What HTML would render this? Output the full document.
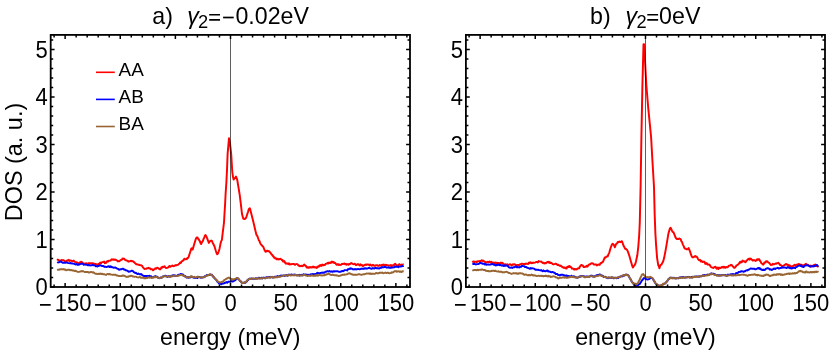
<!DOCTYPE html>
<html><head><meta charset="utf-8"><title>DOS</title>
<style>html,body{margin:0;padding:0;background:#fff}svg{display:block}text{font-family:"Liberation Sans",sans-serif;fill:#000}</style></head><body>
<svg width="830" height="353" viewBox="0 0 830 353">
<rect width="830" height="353" fill="#fff"/>
<defs><clipPath id="cl"><rect x="50.7" y="34.9" width="359.3" height="252.1"/></clipPath><clipPath id="cr"><rect x="465.9" y="34.9" width="359.1" height="252.1"/></clipPath></defs>
<path d="M57.2,260.5 57.8,259.6 58.4,259.9 59.2,260.6 60.0,260.7 60.8,260.5 61.6,260.0 62.4,260.2 63.3,260.1 64.1,260.5 64.9,261.2 65.7,261.4 66.5,261.6 67.3,260.3 68.1,260.7 68.9,259.9 69.7,261.0 70.5,260.5 71.3,260.6 72.1,261.3 72.9,261.1 73.7,260.6 74.5,261.6 75.3,262.0 76.1,262.6 76.9,262.2 77.7,262.9 78.5,263.3 79.3,263.1 80.1,262.3 80.9,261.8 81.7,262.0 82.5,262.9 83.3,263.1 84.1,263.9 84.9,263.5 85.7,263.4 86.5,263.3 87.3,263.8 88.2,263.7 89.0,263.1 89.8,263.8 90.6,263.2 91.4,263.3 92.2,263.2 93.0,263.5 93.8,263.4 94.6,264.1 95.4,263.9 96.2,264.1 97.0,264.7 97.8,264.3 98.6,263.8 99.4,263.8 100.2,262.6 101.0,263.3 101.8,262.3 102.4,262.1 103.0,262.1 103.6,261.7 104.2,261.6 104.8,263.2 105.4,262.9 106.0,263.0 106.6,261.5 107.2,261.7 107.8,261.1 108.4,261.4 109.0,260.7 109.8,260.6 110.6,260.6 111.4,259.5 112.2,259.3 113.1,259.8 113.9,259.3 114.7,259.8 115.5,259.6 116.3,260.2 117.1,260.6 117.9,261.4 118.7,261.1 119.5,261.2 120.3,260.3 121.1,259.9 121.9,259.6 122.7,258.4 123.5,258.7 124.3,258.8 125.1,260.1 125.9,260.2 126.7,260.6 127.5,260.7 128.3,261.7 129.1,261.4 129.9,261.3 130.7,260.7 131.5,261.2 132.3,261.0 133.1,261.4 133.9,262.0 134.7,262.8 135.5,263.5 136.3,264.3 137.1,264.3 138.0,264.7 138.8,264.7 139.6,265.1 140.4,265.3 141.2,265.2 142.0,265.8 142.8,267.1 143.6,268.0 144.4,269.0 145.2,268.9 146.0,268.8 146.8,268.3 147.6,268.3 148.4,267.8 149.2,268.3 150.0,268.3 150.6,269.3 151.2,269.3 151.8,269.1 152.4,269.5 153.0,270.3 153.6,270.1 154.2,269.1 154.8,268.9 155.4,268.3 156.0,268.8 156.6,268.0 157.2,267.7 157.8,268.0 158.4,268.1 159.0,268.9 159.6,268.9 160.2,269.4 160.8,268.7 161.4,267.3 162.0,267.8 162.7,266.7 163.3,267.0 163.9,267.0 164.5,266.2 165.1,267.2 165.7,267.9 166.3,268.0 166.9,267.9 167.5,267.7 168.1,267.4 168.7,266.9 169.3,266.0 169.9,266.2 170.5,266.7 171.1,266.1 171.7,265.9 172.3,265.5 172.9,266.1 173.5,266.2 174.1,266.0 174.7,265.5 175.3,265.5 175.9,265.1 176.5,265.3 177.1,265.0 177.7,264.9 178.3,264.6 178.9,264.1 179.5,263.6 180.1,262.6 180.7,262.9 181.3,261.9 181.9,261.2 182.5,261.1 183.1,260.4 183.7,260.0 184.3,258.7 184.9,259.2 185.5,259.3 186.1,259.0 186.7,259.2 187.3,258.0 188.0,258.0 188.6,257.0 189.2,255.1 189.8,253.2 191.0,249.6 191.4,248.4 192.0,248.3 192.7,249.6 193.9,245.3 195.7,239.3 196.3,238.0 196.9,237.4 197.5,237.5 198.1,238.9 198.7,239.2 199.3,240.5 199.9,241.1 200.5,243.1 201.1,244.1 201.7,242.9 202.3,241.5 202.9,241.1 203.5,239.0 204.1,238.0 204.7,236.3 205.3,235.1 205.9,235.6 206.5,236.8 207.1,238.1 207.7,240.0 208.3,241.3 208.9,242.9 209.5,241.8 210.1,241.1 210.7,240.8 211.3,240.5 211.9,240.8 212.5,242.4 213.1,243.5 213.7,244.8 214.3,245.9 214.9,247.8 215.8,250.8 216.6,253.2 217.2,254.2 217.9,253.6 218.7,251.5 219.6,248.4 220.4,244.1 221.1,241.4 221.9,239.9 222.8,232.1 224.0,222.5 224.6,212.0 225.0,206.0 225.6,194.0 226.4,182.0 227.0,170.0 227.6,154.1 229.0,138.2 230.0,143.3 231.2,154.1 232.2,171.0 232.8,176.0 233.6,179.6 234.5,178.2 235.2,178.0 236.0,176.6 236.6,178.1 237.2,179.6 238.4,186.9 239.6,194.1 240.8,203.7 242.0,214.0 243.3,218.8 243.9,218.5 244.5,219.1 245.1,218.8 245.7,218.2 246.3,217.2 246.9,215.2 248.1,211.6 248.7,209.4 249.3,208.6 249.9,208.2 250.5,210.4 251.7,215.2 252.9,220.0 254.1,224.9 255.3,230.3 256.5,235.1 257.1,235.6 257.7,237.0 258.3,238.7 258.9,240.5 259.5,241.0 260.1,242.9 260.7,244.0 261.3,244.8 261.9,245.3 262.5,246.2 263.1,246.5 263.7,247.8 264.4,249.8 265.0,250.9 265.7,251.8 266.3,251.5 266.9,250.7 267.5,250.8 268.1,251.2 268.7,251.1 269.3,251.4 269.9,252.3 270.5,252.8 271.1,253.8 271.7,254.8 272.3,254.8 272.9,256.2 273.5,256.3 274.1,257.7 274.7,257.4 275.3,258.5 275.9,258.2 276.5,259.0 277.1,259.5 277.7,258.7 278.3,259.0 278.9,259.6 279.5,259.1 280.1,258.7 280.7,259.0 281.3,259.3 281.9,260.2 282.5,259.9 283.1,261.6 283.7,261.4 284.3,261.1 284.9,262.7 285.5,262.6 286.1,263.7 286.7,263.5 287.3,263.8 288.0,263.2 288.6,264.1 289.2,263.5 289.8,264.5 290.4,264.3 291.0,264.3 291.6,264.2 292.2,264.0 292.8,264.1 293.4,264.0 294.0,264.0 294.6,264.7 295.2,264.7 295.8,264.2 296.4,264.1 297.0,264.0 297.6,264.3 298.2,265.3 298.8,265.8 299.4,265.6 300.0,266.2 300.6,266.1 301.2,265.7 301.8,265.9 302.4,266.2 303.0,265.9 303.6,265.0 304.2,264.6 304.8,265.1 305.4,265.9 306.0,266.0 306.6,267.4 307.2,267.1 307.8,267.7 308.4,267.2 309.0,267.7 309.6,267.1 310.2,267.5 310.8,267.1 311.4,267.5 312.0,267.5 312.7,266.7 313.3,266.6 313.9,267.5 314.5,267.1 315.1,267.5 315.7,267.3 316.3,267.4 316.9,267.9 317.5,266.6 318.1,266.7 318.7,266.8 319.3,265.5 319.9,265.9 320.5,265.1 321.1,265.9 321.7,265.0 322.3,264.6 322.9,265.4 323.5,265.0 324.1,264.9 324.7,265.1 325.3,264.3 325.9,263.8 326.5,263.5 327.1,263.5 327.7,262.9 328.3,263.5 328.9,262.6 329.5,262.7 330.1,263.1 330.7,262.3 331.3,262.7 331.9,261.5 332.5,261.9 333.1,262.4 333.7,262.1 334.3,263.1 334.9,262.8 335.5,263.3 336.1,264.3 336.7,264.8 337.3,264.6 338.0,264.1 338.6,264.9 339.2,264.5 339.8,265.0 340.4,264.9 341.0,264.8 341.6,264.1 342.2,263.8 342.8,264.0 343.4,263.8 344.0,263.6 344.6,263.5 345.2,264.3 345.8,263.9 346.4,264.7 347.0,264.1 347.7,264.2 348.5,264.7 349.2,264.0 350.0,264.1 350.8,263.3 351.7,263.1 352.5,263.9 353.3,264.2 354.1,264.1 354.9,263.7 355.7,265.0 356.5,265.0 357.3,264.3 358.1,264.2 358.9,264.7 359.7,265.5 360.5,264.4 361.3,265.3 362.1,265.0 362.9,266.2 363.7,265.5 364.5,265.2 365.3,264.6 366.1,265.0 366.9,264.4 367.8,264.4 368.6,264.7 369.4,265.2 370.2,264.5 371.0,265.3 371.8,265.8 372.6,264.9 373.4,265.0 374.2,265.8 375.0,265.8 375.8,265.3 376.6,265.2 377.4,265.3 378.2,265.9 379.0,265.7 379.8,265.0 380.6,265.5 381.4,265.7 382.2,264.7 383.0,265.3 383.8,264.5 384.6,265.8 385.4,265.0 386.2,264.8 387.0,265.3 387.8,265.3 388.6,265.4 389.4,265.4 390.2,265.9 391.0,265.0 391.8,266.1 392.7,265.3 393.3,265.6 393.9,265.2 394.5,264.1 395.1,263.8 395.7,264.3 396.3,265.0 396.9,265.3 397.5,265.9 398.1,265.3 398.7,264.7 399.3,264.1 399.9,264.7 400.5,265.0 401.1,265.0 401.7,264.6 402.4,264.9 403.1,264.5 403.7,264.7" fill="none" stroke="#f00" stroke-width="1.95" stroke-linejoin="round" clip-path="url(#cl)"/>
<path d="M57.2,262.0 58.0,262.5 58.8,262.4 59.6,261.9 60.4,261.5 61.2,261.7 62.0,262.3 62.9,262.8 63.7,262.8 64.5,262.6 65.3,262.8 66.1,262.4 66.9,262.6 67.7,262.9 68.5,263.1 69.3,263.1 70.1,263.3 70.9,263.0 71.7,263.5 72.5,263.5 73.3,263.6 74.1,263.8 74.9,264.2 75.7,264.5 76.5,264.1 77.3,264.8 78.1,264.5 78.9,264.7 79.7,264.3 80.5,263.9 81.3,263.8 82.1,263.6 82.9,263.9 83.7,264.7 84.5,264.6 85.3,264.5 86.1,264.7 86.9,264.7 87.8,265.3 88.6,265.0 89.4,265.2 90.2,265.4 91.0,265.5 91.8,265.1 92.6,264.8 93.4,265.3 94.2,265.4 95.0,265.5 95.8,266.2 96.6,266.1 97.4,266.5 98.2,265.9 99.0,265.9 99.8,265.1 100.6,265.3 101.4,265.9 102.2,266.0 103.0,265.9 103.8,266.4 104.6,266.9 105.4,266.7 106.2,266.9 107.0,266.9 107.8,266.5 108.6,266.2 109.4,266.9 110.2,266.2 111.0,267.2 111.8,266.7 112.7,267.4 113.5,267.7 114.3,267.7 115.1,267.4 115.9,267.8 116.7,268.3 117.5,268.7 118.3,268.9 119.1,269.7 119.9,269.5 120.7,269.2 121.5,269.3 122.3,268.7 123.1,268.8 123.9,269.6 124.7,269.5 125.5,270.3 126.3,270.3 127.1,270.7 127.9,271.1 128.7,271.7 129.5,271.5 130.3,271.5 131.1,271.0 131.9,270.7 132.7,271.0 133.5,271.7 134.3,272.5 135.1,273.0 135.9,272.8 136.7,273.5 137.6,274.1 138.4,273.5 139.2,274.0 140.0,274.5 140.8,274.0 141.6,274.3 142.4,275.4 143.2,275.7 144.0,276.1 144.8,276.0 145.6,276.0 146.4,275.9 147.2,276.0 148.0,276.0 148.8,275.9 149.4,275.8 150.0,276.1 150.8,276.1 151.6,276.8 152.4,277.1 153.2,277.3 154.0,276.7 154.8,276.4 155.6,276.1 156.4,277.0 157.2,276.8 158.0,277.5 158.8,278.1 159.6,278.0 160.4,277.5 161.2,277.8 162.0,277.3 162.9,276.4 163.7,276.5 164.5,275.9 165.3,275.8 166.1,276.0 166.9,276.5 167.7,276.9 168.5,276.0 169.3,276.5 170.1,276.3 170.9,276.5 171.7,275.9 172.5,275.4 173.3,275.2 174.1,275.3 174.9,275.9 175.7,275.6 176.5,275.9 177.3,275.8 178.1,274.8 178.9,275.0 179.7,274.5 180.5,274.0 181.3,274.0 182.1,274.6 182.9,274.4 183.7,275.3 184.5,276.4 185.3,276.0 186.1,277.1 186.9,277.6 187.8,277.0 188.6,277.8 189.4,277.2 190.2,277.5 191.0,276.8 191.8,276.7 192.6,277.0 193.4,277.6 194.2,277.9 195.0,277.8 195.8,278.0 196.6,277.3 197.4,278.0 198.2,277.2 199.0,277.0 199.8,277.1 200.6,277.8 201.4,277.5 202.2,277.6 203.0,277.3 203.8,277.3 204.6,276.3 205.4,276.4 206.2,275.8 207.0,275.0 207.8,275.2 208.6,274.9 209.4,275.0 210.2,274.4 210.8,274.8 211.4,275.0 212.0,274.7 212.7,275.9 213.3,276.9 214.0,277.4 214.7,278.4 215.3,278.9 216.0,279.7 216.6,280.2 217.3,281.6 218.0,282.3 218.6,282.8 219.2,283.7 219.9,283.3 220.5,283.8 221.2,284.3 221.9,283.9 222.6,283.3 223.3,283.6 223.9,283.3 224.6,283.0 225.2,282.8 225.9,282.5 226.6,282.0 227.2,282.7 227.9,282.0 228.6,281.6 229.2,281.8 229.9,281.6 230.5,281.5 231.2,281.0 231.9,281.6 232.5,281.5 233.2,280.9 233.8,281.2 234.6,280.2 235.4,280.2 236.2,279.2 236.8,278.1 237.5,277.9 238.2,278.8 239.0,279.4 239.8,280.8 240.6,281.1 241.4,282.3 242.2,282.8 243.0,282.9 243.8,282.8 244.6,282.5 245.3,282.8 246.0,282.0 246.8,281.4 247.6,280.0 248.2,280.1 248.8,278.9 249.4,278.8 250.0,278.8 250.7,278.7 251.4,278.4 252.2,278.8 252.9,278.8 253.6,278.7 254.3,278.9 255.1,278.8 255.8,278.2 256.5,278.4 257.2,278.4 258.0,278.4 258.7,277.8 259.4,277.8 260.1,278.1 260.8,278.2 261.6,277.7 262.3,278.4 263.0,277.8 263.7,277.6 264.5,278.0 265.2,277.6 265.9,277.5 266.6,277.3 267.3,277.5 268.1,277.3 268.8,277.2 269.5,277.0 270.2,277.3 271.0,276.8 271.7,277.1 272.4,277.5 273.1,277.5 273.9,277.2 274.6,276.8 275.3,276.8 276.0,276.8 276.7,276.8 277.5,276.1 278.2,276.5 278.9,276.5 279.6,276.3 280.4,275.8 281.1,275.5 281.8,276.1 282.5,275.6 283.3,275.4 284.0,275.5 284.7,275.9 285.4,275.5 286.1,275.3 286.9,275.0 287.6,275.7 288.3,274.9 289.0,274.5 289.8,274.9 290.5,275.1 291.2,274.4 291.9,274.6 292.7,275.1 293.4,274.7 294.1,275.0 294.8,274.4 295.5,275.0 296.3,275.1 297.0,275.3 297.7,275.3 298.4,275.0 299.2,275.4 299.9,274.8 300.6,275.3 301.3,274.9 302.0,274.8 302.8,275.3 303.5,274.2 304.2,274.6 304.9,274.9 305.7,274.4 306.4,274.8 307.1,274.7 307.8,274.9 308.6,274.8 309.3,275.1 310.0,274.7 310.7,274.3 311.4,274.7 312.2,274.1 312.9,273.9 313.6,274.6 314.3,274.3 315.1,274.0 315.8,274.3 316.5,273.8 317.2,272.9 318.0,273.5 318.7,273.1 319.4,273.3 320.1,273.2 320.8,272.9 321.6,272.7 322.3,272.7 323.1,272.5 323.9,272.8 324.7,272.3 325.5,271.7 326.3,271.7 327.1,271.3 327.9,271.2 328.7,271.6 329.5,271.1 330.3,271.5 331.1,271.7 331.9,271.3 332.7,271.8 333.5,271.2 334.3,271.5 335.1,271.2 335.9,271.4 336.7,271.3 337.6,271.2 338.4,271.6 339.2,271.9 340.0,271.8 340.8,271.8 341.6,271.1 342.4,271.0 343.2,271.2 344.0,270.7 344.8,270.1 345.6,270.1 346.4,270.1 347.1,270.4 347.8,269.2 348.6,269.3 349.3,268.7 350.0,268.9 350.8,268.3 351.7,268.7 352.5,269.2 353.3,269.5 354.1,269.1 354.9,269.4 355.7,269.0 356.5,269.5 357.3,269.1 358.1,269.0 358.9,269.1 359.7,269.2 360.5,269.0 361.3,268.7 362.1,268.7 362.9,268.8 363.7,268.9 364.5,268.3 365.3,268.5 366.1,268.3 366.9,268.7 367.8,268.3 368.6,267.9 369.4,267.7 370.2,268.4 371.0,268.7 371.8,268.8 372.6,268.1 373.4,268.3 374.2,268.6 375.0,268.0 375.8,267.9 376.6,268.3 377.4,268.1 378.2,268.3 379.0,268.6 379.8,268.2 380.6,267.7 381.4,267.7 382.2,267.1 383.0,267.4 383.8,267.3 384.6,266.7 385.4,267.1 386.2,267.3 387.0,267.7 387.8,267.4 388.6,267.3 389.4,267.8 390.2,267.9 391.0,267.7 391.8,267.5 392.7,267.4 393.5,267.4 394.3,267.3 395.1,266.5 395.9,266.8 396.7,266.6 397.5,266.7 398.3,267.2 399.1,266.4 399.9,266.5 400.7,266.6 401.5,266.3 402.3,265.9 403.0,266.2 403.7,265.9" fill="none" stroke="#00f" stroke-width="1.95" stroke-linejoin="round" clip-path="url(#cl)"/>
<path d="M57.2,270.1 58.0,269.7 58.8,269.7 59.6,269.5 60.4,269.3 61.2,269.3 62.0,269.1 62.9,269.4 63.7,269.1 64.5,269.7 65.3,269.4 66.1,270.3 66.9,270.1 67.7,269.8 68.5,269.6 69.3,269.7 70.1,270.3 70.9,269.9 71.7,270.1 72.5,270.6 73.3,270.5 74.1,270.7 74.9,271.0 75.7,270.8 76.5,271.3 77.3,271.6 78.1,272.0 78.9,271.9 79.7,271.6 80.5,271.6 81.3,271.1 82.1,271.4 82.9,271.0 83.7,271.5 84.5,271.9 85.3,271.9 86.1,271.9 86.9,271.9 87.8,271.9 88.6,272.5 89.4,272.6 90.2,272.1 91.0,271.9 91.8,272.2 92.6,272.5 93.4,272.3 94.2,272.9 95.0,273.6 95.8,273.7 96.6,273.7 97.4,274.1 98.2,274.0 99.0,273.7 99.8,274.0 100.6,273.5 101.4,274.1 102.2,273.7 103.0,274.3 103.8,274.1 104.6,274.3 105.4,274.7 106.2,274.9 107.0,274.1 107.8,274.0 108.6,274.2 109.4,274.0 110.2,274.3 111.0,274.5 111.8,274.6 112.7,274.9 113.5,274.7 114.3,274.8 115.1,274.7 115.9,275.0 116.7,275.6 117.5,275.5 118.3,275.8 119.1,276.1 119.9,275.9 120.7,276.1 121.5,276.1 122.3,275.5 123.1,275.8 123.9,275.5 124.7,275.9 125.5,276.5 126.3,276.9 127.1,276.7 127.9,276.9 128.7,276.4 129.5,276.1 130.3,276.2 131.1,275.7 131.9,275.9 132.7,276.5 133.5,276.5 134.3,276.7 135.1,276.6 135.9,276.6 136.7,277.1 137.6,277.4 138.4,277.5 139.2,277.1 140.0,276.9 140.8,277.7 141.6,277.6 142.4,277.7 143.2,277.7 144.0,278.3 144.8,278.0 145.6,278.3 146.4,277.9 147.2,278.1 148.0,277.3 148.8,277.6 149.4,277.7 150.0,277.6 150.8,277.3 151.6,278.0 152.4,277.9 153.2,277.4 154.0,277.5 154.8,276.7 155.6,277.3 156.4,277.0 157.2,277.1 158.0,277.9 158.8,277.7 159.6,278.3 160.4,277.7 161.2,277.9 162.0,277.6 162.9,276.7 163.7,276.3 164.5,276.1 165.3,276.2 166.1,276.6 166.9,276.7 167.7,276.4 168.5,276.3 169.3,276.7 170.1,276.9 170.9,276.2 171.7,276.1 172.5,276.3 173.3,276.1 174.1,275.5 174.9,275.6 175.7,275.9 176.5,276.1 177.3,275.9 178.1,275.8 178.9,275.5 179.7,275.3 180.5,275.0 181.3,274.7 182.1,275.1 182.9,275.6 183.7,275.5 184.5,276.0 185.3,276.5 186.1,277.1 186.9,277.4 187.8,277.2 188.6,277.6 189.4,276.9 190.2,277.0 191.0,276.1 191.8,276.5 192.6,276.8 193.4,277.1 194.2,276.8 195.0,277.3 195.8,277.6 196.6,277.4 197.4,276.6 198.2,276.7 199.0,277.1 199.8,277.4 200.6,277.6 201.4,277.1 202.2,277.5 203.0,277.3 203.8,277.0 204.6,276.8 205.4,276.4 206.2,275.8 207.0,275.7 207.8,275.2 208.6,275.2 209.4,274.4 210.2,274.7 210.8,274.4 211.4,275.0 212.0,274.9 212.7,276.2 213.3,276.3 214.0,277.4 214.7,278.1 215.3,278.9 216.0,279.6 216.6,280.1 217.3,280.9 218.0,281.8 218.6,281.8 219.3,282.2 220.0,282.5 220.6,282.4 221.3,282.0 221.9,282.0 222.6,281.4 223.3,281.3 223.9,280.6 224.6,279.6 225.2,279.6 225.9,279.0 226.6,278.9 227.2,278.1 227.9,278.0 228.7,277.6 229.5,277.8 230.1,278.6 230.7,278.8 231.5,278.9 232.3,279.6 233.0,279.3 233.8,279.5 234.6,279.0 235.4,278.6 236.1,278.5 236.8,278.0 237.5,278.0 238.2,278.8 239.0,279.6 239.8,280.8 240.6,281.4 241.4,282.3 242.2,282.9 243.0,282.9 243.8,282.7 244.6,282.5 245.3,282.6 246.0,282.0 246.8,280.7 247.6,280.0 248.2,279.4 248.8,279.3 249.4,278.8 250.0,278.8 250.7,279.1 251.4,278.7 252.2,278.5 252.9,278.4 253.6,278.8 254.3,278.7 255.1,278.4 255.8,278.9 256.5,278.9 257.2,278.5 258.0,278.2 258.7,278.2 259.4,278.7 260.1,278.5 260.8,278.3 261.6,278.6 262.3,278.1 263.0,278.0 263.7,278.1 264.5,278.3 265.2,278.4 265.9,277.8 266.6,277.7 267.3,277.6 268.1,277.6 268.8,277.4 269.5,277.4 270.2,277.8 271.0,277.1 271.7,277.3 272.4,276.8 273.1,277.6 273.9,277.5 274.6,277.6 275.3,277.1 276.0,277.0 276.7,277.3 277.5,277.3 278.2,276.5 278.9,276.7 279.6,276.8 280.4,276.7 281.1,276.4 281.8,276.1 282.5,275.9 283.3,275.6 284.0,275.6 284.7,275.4 285.4,275.2 286.1,275.5 286.9,275.5 287.6,275.2 288.3,275.6 289.0,274.8 289.8,275.2 290.5,275.5 291.2,275.2 291.9,275.4 292.7,275.3 293.4,274.9 294.1,275.4 294.8,275.2 295.5,274.8 296.3,275.6 297.0,275.5 297.7,275.2 298.4,275.3 299.2,275.7 299.9,275.5 300.6,275.5 301.3,275.3 302.0,275.7 302.8,275.3 303.5,274.9 304.2,274.9 304.9,274.9 305.7,275.6 306.4,275.5 307.1,275.9 307.8,275.9 308.6,275.7 309.3,275.5 310.0,275.7 310.7,275.9 311.4,275.5 312.2,275.2 312.9,275.8 313.6,275.9 314.3,275.8 315.1,275.5 315.8,275.8 316.5,275.0 317.2,275.5 318.0,275.7 318.7,275.3 319.4,274.9 320.1,275.2 320.8,275.2 321.6,275.5 322.3,275.5 323.0,275.3 323.7,275.3 324.5,275.4 325.2,274.6 325.9,274.9 326.5,274.3 327.1,274.2 327.7,274.3 328.3,273.9 328.9,273.7 329.5,274.0 330.3,274.7 331.1,274.9 331.9,274.9 332.7,274.6 333.5,275.1 334.3,275.2 335.1,275.1 335.9,275.2 336.7,275.5 337.6,275.5 338.4,275.9 339.2,275.9 340.0,275.7 340.8,275.3 341.6,275.2 342.4,274.8 343.2,274.8 344.0,274.9 344.8,274.4 345.6,274.6 346.4,274.3 347.1,274.3 347.8,273.9 348.6,273.4 349.3,273.3 350.0,273.5 350.8,273.8 351.7,274.3 352.5,274.5 353.3,274.8 354.1,274.7 354.9,274.6 355.7,274.9 356.5,274.7 357.3,274.7 358.1,274.4 358.9,274.3 359.7,274.3 360.5,274.6 361.3,274.7 362.1,274.7 362.9,274.4 363.7,274.3 364.5,274.3 365.3,273.9 366.1,273.7 366.9,273.4 367.8,273.6 368.6,273.5 369.4,273.8 370.2,273.4 371.0,274.0 371.8,273.8 372.6,273.7 373.4,273.7 374.2,273.9 375.0,273.7 375.8,273.1 376.6,273.0 377.4,273.5 378.2,273.1 379.0,273.2 379.8,272.7 380.6,272.7 381.4,272.8 382.2,272.6 383.0,273.1 383.8,273.2 384.6,272.9 385.4,272.5 386.2,272.9 387.0,272.9 387.8,272.7 388.6,273.0 389.4,273.2 390.2,273.1 391.0,273.0 391.8,272.3 392.7,272.5 393.5,272.2 394.3,271.3 395.1,271.3 395.9,271.1 396.7,271.7 397.5,271.5 398.3,271.3 399.1,271.4 399.9,271.9 400.7,271.4 401.5,272.0 402.3,271.5 403.0,271.3 403.7,271.5" fill="none" stroke="#963" stroke-width="1.95" stroke-linejoin="round" clip-path="url(#cl)"/>
<path d="M472.3,262.3 473.0,261.7 473.7,261.4 474.4,261.9 475.2,261.9 476.0,261.6 476.8,262.3 477.6,261.2 478.4,261.3 479.3,261.1 480.1,261.4 480.9,260.9 481.7,260.2 482.5,261.0 483.3,260.6 484.1,261.4 484.9,261.9 485.7,261.9 486.5,262.6 487.3,262.0 488.1,261.8 488.9,262.3 489.7,261.6 490.5,262.5 491.3,261.7 492.1,262.5 492.9,262.8 493.7,262.6 494.5,263.2 495.3,262.5 496.1,263.1 496.9,262.7 497.7,263.1 498.5,262.9 499.3,263.1 500.1,263.2 500.9,262.6 501.7,263.6 502.5,262.8 503.3,263.8 504.2,264.2 505.0,264.4 505.8,264.3 506.6,264.6 507.4,264.3 508.2,265.0 509.0,264.9 509.8,264.2 510.6,264.7 511.4,265.2 512.2,265.0 513.0,264.3 513.8,264.5 514.6,264.3 515.4,264.7 516.2,265.4 517.0,265.0 517.8,265.0 518.6,265.3 519.4,264.9 520.2,264.1 521.0,264.0 521.8,263.8 522.6,263.8 523.4,264.1 524.2,264.0 525.0,264.3 525.8,263.6 526.6,263.7 527.4,263.8 528.2,264.0 529.1,262.5 529.9,262.9 530.7,262.3 531.5,263.2 532.3,263.1 533.1,262.6 533.9,262.8 534.7,262.6 535.5,262.3 536.3,261.9 537.1,261.9 537.9,262.5 538.7,261.1 539.5,261.4 540.3,261.6 541.1,261.5 541.9,262.3 542.7,262.9 543.5,262.7 544.3,263.5 545.1,263.0 545.9,263.3 546.7,262.6 547.3,262.0 547.9,262.1 548.5,261.7 549.1,262.8 549.7,262.0 550.3,263.1 551.1,262.8 551.9,263.3 552.7,264.1 553.6,264.4 554.4,264.1 555.2,263.8 556.0,263.8 556.8,264.4 557.6,265.0 558.4,264.8 559.2,265.5 560.0,265.9 560.8,265.5 561.6,266.7 562.4,266.7 563.2,267.6 564.0,267.9 564.8,267.4 565.4,268.2 566.0,268.3 566.6,268.6 567.2,266.8 567.8,267.1 568.4,266.4 569.0,267.0 569.6,265.9 570.2,266.9 570.8,266.9 571.4,267.7 572.0,268.7 572.6,268.5 573.2,268.7 573.8,269.4 574.4,268.9 575.0,269.5 575.6,269.0 576.2,269.4 576.8,269.5 577.4,268.5 578.0,268.5 578.7,268.3 579.3,268.2 579.9,266.4 580.5,265.9 581.1,265.0 581.7,265.0 582.3,265.5 582.9,265.5 583.5,267.0 584.1,267.1 584.7,266.8 585.4,266.6 586.0,266.8 586.7,265.7 587.4,266.6 588.2,265.4 588.9,264.9 589.6,264.2 590.3,264.2 591.1,263.4 591.8,263.2 592.5,263.6 593.2,263.5 594.0,264.6 594.7,264.6 595.4,264.4 596.1,264.4 596.8,265.4 597.6,265.1 598.3,264.5 599.0,264.6 599.7,264.9 600.5,263.1 601.2,263.2 601.9,262.5 602.6,262.2 603.3,261.0 604.1,259.1 604.8,257.4 605.5,257.8 606.2,256.7 607.0,256.5 607.7,256.4 608.4,254.4 609.1,253.1 610.6,248.0 611.3,246.1 612.0,244.4 612.7,243.7 613.5,244.4 614.2,245.7 614.9,247.3 615.6,245.1 616.4,243.7 617.1,243.4 617.8,242.0 618.5,242.2 619.3,241.5 620.0,241.9 620.7,242.2 621.4,241.2 622.1,241.5 623.6,245.9 624.3,246.9 625.0,248.7 625.8,248.7 626.5,249.5 627.2,250.1 627.9,251.6 629.4,256.0 630.8,261.0 632.3,266.1 633.0,267.5 633.7,266.1 634.4,265.4 635.2,264.1 635.9,261.8 637.3,255.3 638.3,246.6 639.2,235.0 639.8,222.0 640.6,187.0 641.4,137.0 642.4,86.0 643.5,44.2 644.1,44.2 646.4,86.0 648.2,107.7 651.1,137.0 652.5,162.0 654.0,187.0 654.7,215.0 655.4,233.6 656.1,245.1 657.1,258.1 658.3,265.4 658.9,266.3 659.4,268.3 660.2,265.8 660.9,264.6 661.5,264.6 662.0,263.3 662.6,262.5 663.3,261.0 664.1,258.1 665.5,250.9 667.0,242.2 668.4,233.6 669.9,228.5 670.6,227.8 671.3,229.1 672.0,230.7 672.7,232.0 673.5,232.1 674.2,234.2 674.9,235.7 675.6,237.6 676.4,238.6 677.1,239.1 677.8,238.9 678.5,239.1 679.2,238.5 680.0,238.8 680.7,239.3 681.4,241.4 682.1,242.2 682.9,244.6 683.6,245.9 684.3,247.9 685.0,248.7 685.8,248.6 686.5,249.3 687.2,249.2 687.9,249.1 688.6,248.0 689.4,250.0 690.1,251.6 691.5,256.0 692.3,257.2 693.0,257.4 693.7,257.0 694.4,256.7 695.2,256.0 695.9,256.7 696.6,256.6 697.3,257.4 698.0,259.0 698.8,260.0 699.5,260.3 700.2,259.9 700.9,261.5 701.7,261.0 702.4,262.0 703.1,261.8 703.8,261.8 704.5,261.8 705.3,263.8 706.0,263.9 706.5,263.1 707.0,263.5 707.6,264.6 708.2,264.5 708.8,264.7 709.4,264.6 710.0,265.4 710.6,266.5 711.2,267.1 711.8,267.4 712.4,267.7 713.0,267.9 713.6,267.9 714.2,267.1 714.8,266.9 715.4,266.7 716.0,267.7 716.6,268.6 717.2,267.6 717.8,268.7 718.4,269.0 719.0,267.6 719.6,267.9 720.2,268.1 720.8,267.8 721.4,267.1 722.0,267.5 722.7,266.9 723.3,266.7 723.9,267.6 724.5,266.9 725.1,267.7 725.7,267.7 726.3,267.0 726.9,267.1 727.5,267.3 728.1,266.7 728.7,265.9 729.3,265.6 729.9,265.5 730.5,265.3 731.1,264.8 731.7,265.0 732.3,265.9 732.9,266.6 733.5,267.1 734.1,267.7 734.7,267.8 735.3,267.0 735.9,266.5 736.5,265.3 737.1,265.1 737.7,264.7 738.3,264.5 738.9,263.5 739.5,262.9 740.1,261.7 740.7,262.6 741.3,261.7 741.9,262.0 742.5,260.6 743.1,261.1 743.7,261.3 744.3,261.3 744.9,261.7 745.1,262.3 745.7,262.1 746.3,260.8 746.9,260.5 747.5,259.5 748.1,259.2 748.7,258.7 749.3,259.6 749.9,258.4 750.5,259.3 751.1,258.9 751.7,259.8 752.3,259.9 752.9,260.6 753.5,260.1 754.1,260.2 754.7,260.2 755.3,260.9 755.9,260.5 756.5,260.6 757.1,259.2 757.7,259.5 758.3,259.8 758.9,259.0 759.5,259.6 760.1,261.1 760.7,261.6 761.3,263.2 761.9,263.5 762.5,264.0 763.1,264.7 763.7,264.3 764.3,262.6 764.9,262.3 765.5,262.5 766.1,261.2 766.7,261.4 767.3,261.3 768.0,262.2 768.6,262.6 769.2,262.9 769.8,263.8 770.4,264.3 771.0,265.0 771.6,264.9 772.2,264.7 772.8,263.8 773.4,264.2 774.0,264.3 774.6,264.1 775.2,263.7 775.8,263.5 776.4,263.7 777.0,263.2 777.6,263.1 778.2,262.8 778.8,263.4 779.4,264.1 780.0,265.1 780.6,264.8 781.2,265.5 781.8,266.0 782.4,266.5 783.0,265.9 783.6,265.7 784.2,265.3 784.8,264.7 785.4,264.6 786.0,264.0 786.6,264.1 787.2,265.0 787.8,264.7 788.4,265.0 789.0,265.9 789.6,265.3 790.2,265.9 790.8,266.6 791.4,266.6 792.0,266.2 792.7,266.2 793.3,265.7 793.9,265.5 794.5,264.8 795.1,265.6 795.7,265.0 796.3,264.7 796.9,265.0 797.5,264.7 798.1,264.1 798.7,264.0 799.3,264.7 799.9,264.3 800.5,265.4 801.1,265.0 801.7,264.7 802.3,266.0 802.9,265.5 803.5,265.2 804.1,265.3 804.7,265.0 805.4,264.2 806.1,263.8 806.9,264.7 807.7,265.3 808.3,264.9 808.9,265.5 809.5,265.9 810.1,266.7 810.7,265.6 811.3,266.2 811.9,266.4 812.5,265.7 813.1,265.9 813.7,265.4 814.3,264.8 814.9,265.3 815.5,264.6 816.1,266.1 816.7,265.5 817.3,266.3 818.0,266.5 818.6,266.2" fill="none" stroke="#f00" stroke-width="1.95" stroke-linejoin="round" clip-path="url(#cr)"/>
<path d="M472.3,263.5 473.0,263.7 473.7,264.0 474.4,263.8 475.2,264.2 476.0,264.5 476.8,264.1 477.6,264.1 478.4,264.1 479.3,263.5 480.1,262.8 480.9,263.2 481.7,263.1 482.5,263.8 483.3,263.8 484.1,263.8 484.9,264.6 485.7,264.0 486.5,264.7 487.3,264.6 488.1,264.4 488.9,264.7 489.7,264.6 490.5,264.5 491.3,264.3 492.1,263.9 492.9,264.2 493.7,264.7 494.5,264.6 495.3,265.4 496.1,265.0 496.9,265.2 497.7,264.4 498.5,264.7 499.3,265.2 500.1,264.7 500.9,265.3 501.7,265.6 502.5,265.3 503.3,265.9 504.2,265.2 505.0,266.0 505.8,265.5 506.6,265.5 507.4,265.8 508.2,266.5 509.0,267.4 509.8,267.7 510.6,267.7 511.4,267.4 512.2,268.0 513.0,267.4 513.8,267.2 514.6,267.2 515.4,266.7 516.2,266.5 517.0,267.4 517.8,267.1 518.6,267.2 519.4,267.4 520.2,266.7 521.0,266.9 521.8,265.9 522.6,265.9 523.4,266.1 524.2,266.3 525.0,267.1 525.8,267.0 526.6,267.2 527.4,267.9 528.2,268.0 529.1,268.5 529.9,268.7 530.7,268.0 531.5,268.6 532.3,268.3 533.1,268.4 533.9,268.6 534.7,269.1 535.5,269.7 536.3,269.6 537.1,269.9 537.9,269.7 538.7,270.0 539.5,270.1 540.3,270.5 541.1,270.0 541.9,270.7 542.7,271.3 543.5,270.4 544.3,271.1 545.1,271.2 545.9,271.2 546.7,270.7 547.5,270.4 548.3,271.6 549.1,271.5 549.9,271.6 550.7,272.1 551.5,272.3 552.3,271.9 553.1,272.1 554.0,272.7 554.8,272.8 555.6,274.1 556.4,274.0 557.2,273.9 558.0,274.9 558.8,274.9 559.6,275.3 560.4,275.2 561.2,274.7 562.0,274.7 562.8,274.8 563.6,275.2 564.2,275.3 564.8,275.8 565.4,275.6 566.0,275.9 566.8,275.4 567.6,276.2 568.4,275.9 569.2,276.3 570.0,276.4 570.8,276.1 571.6,275.7 572.4,276.9 573.2,276.5 574.0,276.3 574.8,276.9 575.6,277.3 576.4,277.4 577.2,277.8 578.0,277.3 578.9,276.7 579.7,277.0 580.5,276.1 581.3,276.2 582.1,275.9 582.9,276.1 583.7,276.2 584.5,276.4 585.3,277.1 586.1,276.5 586.9,276.5 587.7,276.8 588.5,276.8 589.3,276.9 590.1,276.1 590.9,275.7 591.7,275.6 592.5,276.1 593.3,276.7 594.1,276.3 594.9,276.4 595.7,275.9 596.5,275.3 597.3,275.2 598.1,275.0 598.9,275.0 599.7,274.4 600.5,274.9 601.3,275.3 602.1,275.9 602.9,275.8 603.8,277.1 604.6,277.1 605.4,276.8 606.2,277.6 607.0,277.8 607.8,278.2 608.6,277.4 609.4,277.8 610.2,277.9 611.0,278.0 611.8,277.3 612.6,277.7 613.4,278.2 614.2,278.2 615.0,277.7 615.8,278.1 616.6,278.2 617.4,277.5 618.2,278.0 619.0,277.3 619.8,276.7 620.6,276.5 621.4,276.1 622.2,276.4 623.0,275.9 623.8,275.3 624.6,275.6 625.4,274.7 626.2,274.6 626.8,274.7 627.4,275.0 628.0,274.9 628.7,276.0 629.3,277.1 630.0,278.5 630.7,279.4 631.3,280.7 632.0,282.0 632.6,282.5 633.3,283.6 634.0,284.5 634.6,285.4 635.3,285.7 636.0,285.5 636.6,285.6 637.3,285.4 637.9,285.3 638.6,284.7 639.3,283.9 639.9,283.9 640.6,282.5 641.2,281.9 641.9,280.4 642.7,279.8 643.5,278.4 644.1,278.0 644.7,278.0 645.3,278.7 645.9,278.8 646.5,279.3 647.2,279.4 647.9,279.4 648.5,279.3 649.2,279.1 649.8,278.6 650.4,278.0 651.0,277.8 651.6,278.1 652.2,278.1 653.0,279.0 653.8,280.4 654.5,281.5 655.1,282.9 655.8,283.6 656.5,284.4 657.1,284.5 657.8,285.2 658.4,285.9 659.1,285.8 659.8,285.8 660.5,285.8 661.3,285.2 662.0,285.6 662.4,284.8 663.2,284.4 664.0,283.7 664.8,283.6 665.4,283.2 666.0,282.3 666.6,281.8 667.2,281.2 667.8,280.2 668.4,279.1 669.0,279.0 669.6,278.0 670.2,277.7 670.8,277.8 671.4,277.9 672.0,277.7 672.9,278.2 673.7,277.8 674.5,278.0 675.3,278.4 676.1,278.5 676.9,278.0 677.7,278.1 678.5,278.3 679.3,277.6 680.1,277.9 680.9,277.3 681.7,277.2 682.5,277.3 683.3,276.9 684.1,277.3 684.9,277.6 685.7,277.6 686.5,277.1 687.3,277.0 688.1,277.1 688.9,276.8 689.7,277.2 690.5,277.4 691.3,277.3 692.1,276.8 692.9,277.3 693.7,276.8 694.5,276.8 695.3,276.8 696.1,276.5 696.9,276.4 697.8,276.6 698.6,276.5 699.4,276.7 700.2,276.4 701.0,276.1 701.8,276.2 702.6,275.3 703.4,275.6 704.2,275.0 705.0,275.1 705.8,274.9 706.6,275.1 707.4,274.6 708.2,274.9 709.0,274.8 709.8,274.4 710.6,274.0 711.2,273.3 711.8,273.7 712.4,273.6 713.0,273.6 713.6,273.7 714.2,274.4 715.0,274.3 715.8,274.8 716.6,275.3 717.4,275.0 718.2,275.2 719.0,275.6 719.8,275.0 720.6,275.4 721.4,275.3 722.2,275.0 723.1,275.2 723.9,274.9 724.7,275.2 725.5,275.0 726.3,275.5 727.1,275.8 727.9,274.6 728.7,274.9 729.3,274.7 729.9,274.7 730.7,274.3 731.5,274.3 732.3,274.3 733.1,273.9 733.9,274.7 734.7,274.3 735.5,273.8 736.3,273.0 737.1,273.1 737.9,272.8 738.7,271.9 739.5,271.9 740.3,271.8 741.1,271.3 741.9,271.3 742.7,271.4 743.5,271.8 744.3,271.3 745.1,271.3 745.9,270.6 746.7,270.3 747.4,270.4 748.1,269.9 748.7,269.7 749.3,269.1 750.1,268.8 750.9,268.4 751.7,268.7 752.5,268.8 753.3,268.7 754.1,268.7 754.9,269.2 755.7,269.3 756.5,268.9 757.1,268.7 757.7,268.1 758.3,267.9 758.9,268.7 759.5,268.0 760.1,268.9 760.7,268.8 761.3,269.6 761.9,269.9 762.5,270.1 763.1,269.6 763.7,270.1 764.3,269.9 764.9,269.9 765.5,269.1 766.1,268.7 766.7,268.5 767.3,268.3 768.0,268.2 768.6,268.5 769.2,268.9 769.8,269.6 770.4,269.2 771.0,269.5 771.6,269.9 772.2,269.7 772.8,269.1 773.4,269.1 774.0,268.5 774.6,268.7 775.2,269.1 775.8,268.4 776.4,268.3 777.0,268.1 777.6,267.8 778.2,267.9 778.8,268.6 779.4,268.2 780.0,268.3 780.6,267.9 781.2,267.9 781.8,267.7 782.4,267.2 783.0,267.7 783.6,267.4 784.2,267.5 784.8,267.4 785.4,267.7 786.0,267.9 786.6,267.9 787.2,267.4 787.8,267.0 788.4,267.6 789.0,267.7 789.6,267.5 790.2,268.3 790.8,267.9 791.4,268.4 792.0,267.9 792.7,268.3 793.3,267.9 793.9,267.7 794.5,267.9 795.1,268.2 795.7,267.1 796.3,267.1 796.9,266.8 797.5,266.3 798.1,265.9 798.7,265.8 799.3,265.6 799.9,265.3 800.5,265.9 801.1,265.5 801.7,266.2 802.3,266.8 802.9,266.6 803.5,267.1 804.1,266.6 804.7,265.9 805.3,265.5 805.9,265.2 806.5,265.4 807.1,265.3 807.7,265.4 808.3,265.5 808.9,265.9 809.5,266.3 810.1,266.4 810.7,266.5 811.3,266.0 811.9,266.2 812.5,266.5 813.1,266.2 813.7,266.5 814.3,265.9 814.9,266.1 815.5,265.5 816.1,265.3 816.9,264.9 817.8,266.0 818.6,265.9" fill="none" stroke="#00f" stroke-width="1.95" stroke-linejoin="round" clip-path="url(#cr)"/>
<path d="M472.3,270.1 473.0,270.3 473.7,270.2 474.4,269.9 475.2,270.0 476.0,270.0 476.8,270.3 477.6,269.7 478.4,270.2 479.3,269.9 480.1,269.7 480.9,269.8 481.7,269.5 482.5,269.5 483.3,270.0 484.1,269.9 484.9,269.9 485.7,270.7 486.5,270.7 487.3,271.1 488.1,271.0 488.9,271.3 489.7,271.3 490.5,271.3 491.3,271.1 492.1,270.7 492.9,270.9 493.7,270.7 494.5,271.1 495.3,270.7 496.1,271.1 496.9,271.4 497.7,271.4 498.5,271.3 499.3,271.8 500.1,271.6 500.9,271.9 501.7,271.7 502.5,272.4 503.3,272.3 504.2,272.4 505.0,272.0 505.8,271.9 506.6,271.8 507.4,272.2 508.2,272.7 509.0,273.1 509.8,273.0 510.6,273.5 511.4,273.9 512.2,273.5 513.0,273.5 513.8,273.1 514.6,273.4 515.4,273.1 516.2,273.1 517.0,273.7 517.8,273.5 518.6,273.7 519.4,273.2 520.2,273.1 521.0,273.4 521.8,273.5 522.6,273.5 523.4,274.1 524.2,274.7 525.0,274.7 525.8,274.4 526.6,274.9 527.4,275.2 528.2,275.2 529.1,275.0 529.9,275.2 530.7,275.2 531.5,274.6 532.3,274.9 533.1,275.5 533.9,275.3 534.7,275.5 535.5,275.4 536.3,276.1 537.1,276.1 537.9,275.9 538.7,275.7 539.5,275.9 540.3,275.9 541.1,275.7 541.9,276.1 542.7,275.8 543.5,276.3 544.3,275.9 545.1,276.1 545.9,275.6 546.7,276.1 547.5,276.5 548.3,275.8 549.1,276.4 549.9,276.3 550.7,277.0 551.5,276.7 552.3,276.7 553.1,276.3 554.0,276.4 554.8,276.7 555.6,277.1 556.4,277.6 557.2,277.5 558.0,278.5 558.8,278.3 559.6,277.6 560.4,277.7 561.2,277.6 562.0,277.7 562.8,277.3 563.6,277.3 564.2,277.8 564.8,277.3 565.4,277.6 566.0,277.6 566.8,277.9 567.6,277.8 568.4,277.3 569.2,277.3 570.0,277.3 570.8,276.7 571.6,276.7 572.4,277.0 573.2,276.7 574.0,277.3 574.8,277.3 575.6,277.6 576.4,277.5 577.2,277.8 578.0,277.6 578.9,277.1 579.7,276.4 580.5,276.4 581.3,276.6 582.1,276.2 582.9,276.4 583.7,276.7 584.5,277.3 585.3,277.3 586.1,276.9 586.9,276.7 587.7,277.1 588.5,276.5 589.3,276.7 590.1,276.4 590.9,276.2 591.7,276.1 592.5,276.4 593.3,276.4 594.1,277.0 594.9,276.7 595.7,276.2 596.5,276.1 597.3,275.9 598.1,276.0 598.9,275.5 599.7,275.2 600.5,275.3 601.3,275.8 602.1,276.1 602.9,276.4 603.8,276.4 604.6,277.1 605.4,277.1 606.2,277.2 607.0,277.6 607.8,277.8 608.6,277.4 609.4,277.6 610.2,277.5 611.0,277.7 611.8,277.1 612.6,277.7 613.4,277.5 614.2,277.9 615.0,278.0 615.8,277.8 616.6,277.9 617.4,277.6 618.2,277.4 619.0,277.1 619.8,277.0 620.6,276.8 621.4,276.1 622.2,275.7 623.0,275.3 623.8,275.5 624.6,275.3 625.4,274.7 626.2,274.9 626.8,274.6 627.4,275.3 628.0,275.2 628.7,275.8 629.3,277.1 630.0,278.4 630.7,279.8 631.3,280.6 632.0,282.0 632.6,282.9 633.3,283.5 634.0,283.7 634.6,283.5 635.3,283.7 636.0,284.1 636.6,284.2 637.3,283.6 637.9,283.1 638.7,281.5 639.5,280.0 640.1,278.8 640.7,277.2 641.3,276.2 641.9,274.7 642.5,274.3 643.1,274.0 643.7,274.7 644.3,275.5 644.9,276.0 645.5,277.3 646.1,277.2 646.7,277.4 647.5,277.0 648.3,277.4 649.0,277.2 649.7,277.3 650.4,276.8 651.0,277.1 651.6,277.7 652.2,278.0 653.0,278.8 653.8,280.4 654.5,281.1 655.1,282.6 655.8,283.5 656.5,284.0 657.1,285.0 657.8,285.1 658.4,285.4 659.1,285.7 659.8,285.7 660.5,285.3 661.3,285.9 662.0,285.5 662.4,284.6 663.2,283.8 664.0,283.9 664.8,283.3 665.4,283.1 666.0,282.5 666.6,281.5 667.2,281.1 667.8,279.9 668.4,279.1 669.0,278.9 669.6,278.6 670.2,277.9 670.8,277.6 671.4,278.3 672.0,277.9 672.9,278.4 673.7,278.1 674.5,278.3 675.3,278.5 676.1,278.2 676.9,278.3 677.7,278.0 678.5,278.2 679.3,277.9 680.1,277.4 680.9,278.0 681.7,277.6 682.5,278.0 683.3,277.4 684.1,277.6 684.9,277.9 685.7,277.0 686.5,277.3 687.3,277.6 688.1,277.0 688.9,277.1 689.7,277.7 690.5,277.3 691.3,277.6 692.1,277.8 692.9,276.8 693.7,277.1 694.5,276.6 695.3,277.1 696.1,276.7 696.9,276.8 697.8,276.8 698.6,276.7 699.4,276.2 700.2,276.2 701.0,276.4 701.8,276.1 702.6,275.6 703.4,275.9 704.2,276.1 705.0,275.6 705.8,275.2 706.6,275.6 707.4,275.3 708.2,275.2 709.0,274.7 709.8,274.2 710.6,274.3 711.2,274.4 711.8,273.7 712.4,274.0 713.0,274.2 713.6,274.4 714.2,274.7 715.0,275.0 715.8,274.9 716.6,275.5 717.4,275.3 718.2,275.8 719.0,275.9 719.8,275.3 720.6,275.7 721.4,275.5 722.2,275.1 723.1,275.1 723.9,275.2 724.7,275.1 725.5,275.7 726.3,275.9 727.1,275.7 727.9,275.4 728.7,275.5 729.5,275.1 730.3,275.3 731.1,275.2 731.9,275.6 732.7,275.3 733.5,275.5 734.3,275.2 735.1,275.4 735.9,275.5 736.7,275.1 737.5,275.2 738.3,274.9 739.1,275.2 739.9,275.0 740.7,274.9 741.5,274.6 742.3,274.6 743.1,274.7 743.9,274.7 744.7,274.9 745.5,275.2 746.2,275.2 746.9,275.5 747.7,275.8 748.5,275.2 749.3,274.9 750.1,275.0 750.9,274.9 751.7,274.7 752.5,274.7 753.3,274.7 754.1,274.3 754.9,274.4 755.7,274.9 756.5,274.9 757.3,275.4 758.1,274.8 758.9,275.2 759.7,275.5 760.5,275.5 761.3,275.9 761.9,275.6 762.5,275.6 763.1,276.1 763.7,276.0 764.3,275.1 764.9,275.2 765.5,275.2 766.1,274.5 766.7,274.7 767.3,274.7 768.0,274.6 768.6,275.2 769.2,275.4 769.8,275.9 770.4,275.9 771.0,275.4 771.6,275.5 772.2,275.2 772.8,275.4 773.4,274.6 774.0,274.7 774.6,274.6 775.2,274.9 775.8,274.7 776.4,274.9 777.0,274.1 777.6,274.3 778.2,274.5 778.8,274.0 779.4,274.3 780.0,274.1 780.6,275.0 781.2,274.7 781.8,274.3 782.4,275.1 783.0,274.7 783.6,274.8 784.2,274.6 784.8,274.3 785.4,274.4 786.0,274.2 786.6,274.0 787.2,273.7 787.8,273.7 788.4,273.7 789.0,273.4 789.6,273.9 790.2,273.5 790.8,273.7 791.4,273.7 792.0,273.5 792.7,273.2 793.3,273.6 793.9,273.5 794.5,273.1 795.1,273.5 795.7,273.1 796.3,273.0 796.9,273.0 797.5,272.3 798.1,272.1 798.7,271.6 799.3,271.1 799.9,271.3 800.5,270.7 801.1,271.1 801.7,271.5 802.3,271.4 802.9,272.3 803.5,272.2 804.1,272.1 804.7,272.5 805.3,272.6 805.9,271.4 806.5,271.5 807.1,272.2 807.7,272.4 808.3,272.3 808.9,272.2 809.5,272.6 810.1,272.3 810.7,271.9 811.3,272.1 811.9,272.5 812.5,272.0 813.1,272.0 813.7,272.3 814.3,271.7 814.9,272.3 815.5,271.9 816.1,271.5 816.7,272.0 817.3,271.9 818.0,271.7 818.6,271.9" fill="none" stroke="#963" stroke-width="1.95" stroke-linejoin="round" clip-path="url(#cr)"/>
<path d="M230.5 34.9V287.0" stroke="#000" stroke-width="0.63"/>
<rect x="50.7" y="34.9" width="359.30" height="252.10" fill="none" stroke="#000" stroke-width="1.8"/>
<path d="M54.10 287.0v-2.5M54.10 34.9v2.5M65.12 287.0v-4.1M65.12 34.9v4.1M76.15 287.0v-2.5M76.15 34.9v2.5M87.17 287.0v-2.5M87.17 34.9v2.5M98.20 287.0v-2.5M98.20 34.9v2.5M109.22 287.0v-2.5M109.22 34.9v2.5M120.25 287.0v-4.1M120.25 34.9v4.1M131.27 287.0v-2.5M131.27 34.9v2.5M142.30 287.0v-2.5M142.30 34.9v2.5M153.32 287.0v-2.5M153.32 34.9v2.5M164.35 287.0v-2.5M164.35 34.9v2.5M175.38 287.0v-4.1M175.38 34.9v4.1M186.40 287.0v-2.5M186.40 34.9v2.5M197.43 287.0v-2.5M197.43 34.9v2.5M208.45 287.0v-2.5M208.45 34.9v2.5M219.47 287.0v-2.5M219.47 34.9v2.5M230.50 287.0v-4.1M230.50 34.9v4.1M241.53 287.0v-2.5M241.53 34.9v2.5M252.55 287.0v-2.5M252.55 34.9v2.5M263.57 287.0v-2.5M263.57 34.9v2.5M274.60 287.0v-2.5M274.60 34.9v2.5M285.62 287.0v-4.1M285.62 34.9v4.1M296.65 287.0v-2.5M296.65 34.9v2.5M307.68 287.0v-2.5M307.68 34.9v2.5M318.70 287.0v-2.5M318.70 34.9v2.5M329.73 287.0v-2.5M329.73 34.9v2.5M340.75 287.0v-4.1M340.75 34.9v4.1M351.77 287.0v-2.5M351.77 34.9v2.5M362.80 287.0v-2.5M362.80 34.9v2.5M373.83 287.0v-2.5M373.83 34.9v2.5M384.85 287.0v-2.5M384.85 34.9v2.5M395.88 287.0v-4.1M395.88 34.9v4.1M406.90 287.0v-2.5M406.90 34.9v2.5M50.7 287.00h3.9M410.0 287.00h-3.9M50.7 277.50h2.5M410.0 277.50h-2.5M50.7 268.00h2.5M410.0 268.00h-2.5M50.7 258.50h2.5M410.0 258.50h-2.5M50.7 249.00h2.5M410.0 249.00h-2.5M50.7 239.50h3.9M410.0 239.50h-3.9M50.7 230.00h2.5M410.0 230.00h-2.5M50.7 220.50h2.5M410.0 220.50h-2.5M50.7 211.00h2.5M410.0 211.00h-2.5M50.7 201.50h2.5M410.0 201.50h-2.5M50.7 192.00h3.9M410.0 192.00h-3.9M50.7 182.50h2.5M410.0 182.50h-2.5M50.7 173.00h2.5M410.0 173.00h-2.5M50.7 163.50h2.5M410.0 163.50h-2.5M50.7 154.00h2.5M410.0 154.00h-2.5M50.7 144.50h3.9M410.0 144.50h-3.9M50.7 135.00h2.5M410.0 135.00h-2.5M50.7 125.50h2.5M410.0 125.50h-2.5M50.7 116.00h2.5M410.0 116.00h-2.5M50.7 106.50h2.5M410.0 106.50h-2.5M50.7 97.00h3.9M410.0 97.00h-3.9M50.7 87.50h2.5M410.0 87.50h-2.5M50.7 78.00h2.5M410.0 78.00h-2.5M50.7 68.50h2.5M410.0 68.50h-2.5M50.7 59.00h2.5M410.0 59.00h-2.5M50.7 49.50h3.9M410.0 49.50h-3.9M50.7 40.00h2.5M410.0 40.00h-2.5" stroke="#000" stroke-width="1.5" fill="none"/>
<path d="M645.5 34.9V287.0" stroke="#000" stroke-width="0.63"/>
<rect x="465.9" y="34.9" width="359.10" height="252.10" fill="none" stroke="#000" stroke-width="1.8"/>
<path d="M469.10 287.0v-2.5M469.10 34.9v2.5M480.12 287.0v-4.1M480.12 34.9v4.1M491.15 287.0v-2.5M491.15 34.9v2.5M502.17 287.0v-2.5M502.17 34.9v2.5M513.20 287.0v-2.5M513.20 34.9v2.5M524.23 287.0v-2.5M524.23 34.9v2.5M535.25 287.0v-4.1M535.25 34.9v4.1M546.27 287.0v-2.5M546.27 34.9v2.5M557.30 287.0v-2.5M557.30 34.9v2.5M568.33 287.0v-2.5M568.33 34.9v2.5M579.35 287.0v-2.5M579.35 34.9v2.5M590.38 287.0v-4.1M590.38 34.9v4.1M601.40 287.0v-2.5M601.40 34.9v2.5M612.42 287.0v-2.5M612.42 34.9v2.5M623.45 287.0v-2.5M623.45 34.9v2.5M634.48 287.0v-2.5M634.48 34.9v2.5M645.50 287.0v-4.1M645.50 34.9v4.1M656.52 287.0v-2.5M656.52 34.9v2.5M667.55 287.0v-2.5M667.55 34.9v2.5M678.58 287.0v-2.5M678.58 34.9v2.5M689.60 287.0v-2.5M689.60 34.9v2.5M700.62 287.0v-4.1M700.62 34.9v4.1M711.65 287.0v-2.5M711.65 34.9v2.5M722.67 287.0v-2.5M722.67 34.9v2.5M733.70 287.0v-2.5M733.70 34.9v2.5M744.73 287.0v-2.5M744.73 34.9v2.5M755.75 287.0v-4.1M755.75 34.9v4.1M766.77 287.0v-2.5M766.77 34.9v2.5M777.80 287.0v-2.5M777.80 34.9v2.5M788.83 287.0v-2.5M788.83 34.9v2.5M799.85 287.0v-2.5M799.85 34.9v2.5M810.88 287.0v-4.1M810.88 34.9v4.1M821.90 287.0v-2.5M821.90 34.9v2.5M465.9 287.00h3.9M825.0 287.00h-3.9M465.9 277.50h2.5M825.0 277.50h-2.5M465.9 268.00h2.5M825.0 268.00h-2.5M465.9 258.50h2.5M825.0 258.50h-2.5M465.9 249.00h2.5M825.0 249.00h-2.5M465.9 239.50h3.9M825.0 239.50h-3.9M465.9 230.00h2.5M825.0 230.00h-2.5M465.9 220.50h2.5M825.0 220.50h-2.5M465.9 211.00h2.5M825.0 211.00h-2.5M465.9 201.50h2.5M825.0 201.50h-2.5M465.9 192.00h3.9M825.0 192.00h-3.9M465.9 182.50h2.5M825.0 182.50h-2.5M465.9 173.00h2.5M825.0 173.00h-2.5M465.9 163.50h2.5M825.0 163.50h-2.5M465.9 154.00h2.5M825.0 154.00h-2.5M465.9 144.50h3.9M825.0 144.50h-3.9M465.9 135.00h2.5M825.0 135.00h-2.5M465.9 125.50h2.5M825.0 125.50h-2.5M465.9 116.00h2.5M825.0 116.00h-2.5M465.9 106.50h2.5M825.0 106.50h-2.5M465.9 97.00h3.9M825.0 97.00h-3.9M465.9 87.50h2.5M825.0 87.50h-2.5M465.9 78.00h2.5M825.0 78.00h-2.5M465.9 68.50h2.5M825.0 68.50h-2.5M465.9 59.00h2.5M825.0 59.00h-2.5M465.9 49.50h3.9M825.0 49.50h-3.9M465.9 40.00h2.5M825.0 40.00h-2.5" stroke="#000" stroke-width="1.5" fill="none"/>
<g opacity="0.999">
<text transform="translate(54.77,310.60) scale(1.0,1.05)" font-size="22.0" text-anchor="start">150</text>
<text transform="translate(109.90,310.60) scale(1.0,1.05)" font-size="22.0" text-anchor="start">100</text>
<text transform="translate(171.14,310.60) scale(1.0,1.05)" font-size="22.0" text-anchor="start">50</text>
<text transform="translate(230.50,310.60) scale(1.0,1.05)" font-size="22.0" text-anchor="middle">0</text>
<text transform="translate(285.62,310.60) scale(1.0,1.05)" font-size="22.0" text-anchor="middle">50</text>
<text transform="translate(340.75,310.60) scale(1.0,1.05)" font-size="22.0" text-anchor="middle">100</text>
<text transform="translate(395.88,310.60) scale(1.0,1.05)" font-size="22.0" text-anchor="middle">150</text>
<text transform="translate(47.80,295.45) scale(1.0,1.05)" font-size="22.0" text-anchor="end">0</text>
<text transform="translate(47.80,247.95) scale(1.0,1.05)" font-size="22.0" text-anchor="end">1</text>
<text transform="translate(47.80,200.45) scale(1.0,1.05)" font-size="22.0" text-anchor="end">2</text>
<text transform="translate(47.80,152.95) scale(1.0,1.05)" font-size="22.0" text-anchor="end">3</text>
<text transform="translate(47.80,105.45) scale(1.0,1.05)" font-size="22.0" text-anchor="end">4</text>
<text transform="translate(47.80,57.95) scale(1.0,1.05)" font-size="22.0" text-anchor="end">5</text>
<text transform="translate(469.77,310.60) scale(1.0,1.05)" font-size="22.0" text-anchor="start">150</text>
<text transform="translate(524.90,310.60) scale(1.0,1.05)" font-size="22.0" text-anchor="start">100</text>
<text transform="translate(586.14,310.60) scale(1.0,1.05)" font-size="22.0" text-anchor="start">50</text>
<text transform="translate(645.50,310.60) scale(1.0,1.05)" font-size="22.0" text-anchor="middle">0</text>
<text transform="translate(700.62,310.60) scale(1.0,1.05)" font-size="22.0" text-anchor="middle">50</text>
<text transform="translate(755.75,310.60) scale(1.0,1.05)" font-size="22.0" text-anchor="middle">100</text>
<text transform="translate(810.88,310.60) scale(1.0,1.05)" font-size="22.0" text-anchor="middle">150</text>
<text transform="translate(463.00,295.45) scale(1.0,1.05)" font-size="22.0" text-anchor="end">0</text>
<text transform="translate(463.00,247.95) scale(1.0,1.05)" font-size="22.0" text-anchor="end">1</text>
<text transform="translate(463.00,200.45) scale(1.0,1.05)" font-size="22.0" text-anchor="end">2</text>
<text transform="translate(463.00,152.95) scale(1.0,1.05)" font-size="22.0" text-anchor="end">3</text>
<text transform="translate(463.00,105.45) scale(1.0,1.05)" font-size="22.0" text-anchor="end">4</text>
<text transform="translate(463.00,57.95) scale(1.0,1.05)" font-size="22.0" text-anchor="end">5</text>
<path d="M39.97 304.9h10.7M95.10 304.9h10.7M156.34 304.9h10.7M454.97 304.9h10.7M510.10 304.9h10.7M571.34 304.9h10.7" stroke="#000" stroke-width="1.7"/>
<text transform="translate(230.30,344.60) scale(1.0,1.0)" font-size="23.2" text-anchor="middle">energy (meV)</text>
<text transform="translate(645.40,344.60) scale(1.0,1.0)" font-size="23.2" text-anchor="middle">energy (meV)</text>
<text transform="translate(21.8,162) rotate(-90) scale(1.01,1)" font-size="23.2" text-anchor="middle">DOS (a. u.)</text>
<text transform="translate(152.30,23.80) scale(1.0,1.0)" font-size="23.2" text-anchor="start">a)</text>
<text transform="translate(187.30,23.80) scale(1.0,1.0)" font-size="23.2" text-anchor="start" font-style="italic">γ</text>
<text transform="translate(198.00,27.80) scale(1,1)" font-size="18.3" text-anchor="start">2</text>
<path d="M209.2 14.7h10.8M209.2 19.9h10.8" stroke="#000" stroke-width="1.6"/>
<text transform="translate(235.40,23.80) scale(1.0,1.0)" font-size="23.2" text-anchor="start">0.02eV</text>
<path d="M223.1 17.5h10.6" stroke="#000" stroke-width="1.7"/>
<text transform="translate(590.00,23.80) scale(1.0,1.0)" font-size="23.2" text-anchor="start">b)</text>
<text transform="translate(625.60,23.80) scale(1.0,1.0)" font-size="23.2" text-anchor="start" font-style="italic">γ</text>
<text transform="translate(636.40,27.80) scale(1,1)" font-size="18.3" text-anchor="start">2</text>
<path d="M647.3 14.7h10.8M647.3 19.9h10.8" stroke="#000" stroke-width="1.6"/>
<text transform="translate(659.10,23.80) scale(1.0,1.0)" font-size="23.2" text-anchor="start">0eV</text>
<path d="M96 72.3h18.8" stroke="#f00" stroke-width="1.6"/>
<text transform="translate(118.60,75.60) scale(1,1.02)" font-size="18.9" text-anchor="start">AA</text>
<path d="M96 99.4h18.8" stroke="#00f" stroke-width="1.6"/>
<text transform="translate(118.60,102.70) scale(1,1.02)" font-size="18.9" text-anchor="start">AB</text>
<path d="M96 126.5h18.8" stroke="#963" stroke-width="1.6"/>
<text transform="translate(118.60,129.80) scale(1,1.02)" font-size="18.9" text-anchor="start">BA</text>
</g>
</svg></body></html>
